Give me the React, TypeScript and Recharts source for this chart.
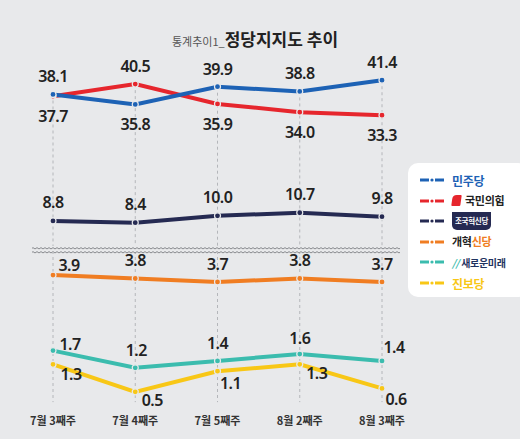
import React from "react";
import { LineChart, Line, XAxis, YAxis, ReferenceLine, LabelList } from "recharts";

const weeks = ["7월 3째주", "7월 4째주", "7월 5째주", "8월 2째주", "8월 3째주"];
const minjoo = [38.1, 35.8, 39.9, 38.8, 41.4];
const ppp = [37.7, 40.5, 35.9, 34.0, 33.3];
const rebuilding = [8.8, 8.4, 10.0, 10.7, 9.8];
const reform = [3.9, 3.8, 3.7, 3.8, 3.7];
const newFuture = [1.7, 1.2, 1.4, 1.6, 1.4];
const progressive = [1.3, 0.5, 1.1, 1.3, 0.6];

const parties = ["민주당", "국민의힘", "조국혁신당", "개혁신당", "새로운미래", "진보당"];
const colors = ["#1d62b5", "#e6262d", "#252a52", "#f07d22", "#3bbcae", "#f8c716"];

const BG = "#e8e9eb";
const GRID = "#b4b6ba";
const NUM_FONT = "'Noto Sans', 'Noto Sans CJK KR', sans-serif";
const KR_FONT = "'Noto Sans CJK KR', 'Noto Sans', sans-serif";

const topData = weeks.map((week, i) => ({
  week,
  minjoo: minjoo[i],
  ppp: ppp[i],
  rebuilding: rebuilding[i],
}));

const bottomData = weeks.map((week, i) => ({
  week,
  reform: reform[i],
  newFuture: newFuture[i],
  progressive: progressive[i],
}));

// label offsets (px) relative to each point
const above = (i: number, a: number[], b: number[]) => (a[i] >= b[i] ? -18 : 20);
const teal = [[17, -7], [1, -18], [0, -18], [0, -16], [12, -14]];
const yellow = [[18, 10], [17, 8], [13, 12], [17, 9], [14, 11]];

function makeLabel(offset: (i: number) => number[]) {
  return (props: any) => {
    const { x, y, value, index } = props;
    const [dx, dy] = offset(index);
    return (
      <text
        x={x + dx}
        y={y + dy}
        textAnchor="middle"
        dominantBaseline="central"
        fontFamily={NUM_FONT}
        fontSize={16}
        fontWeight={600}
        fill="#222"
        letterSpacing={-0.6}
      >
        {Number(value).toFixed(1)}
      </text>
    );
  };
}

const dot = (c: string) => ({ r: 3, fill: c, stroke: BG, strokeWidth: 1.2 });

function wave(y: number) {
  return `M32 ${y} q1 -1.3 2 0` + " t2 0".repeat(183);
}

function LegendName({ name, color }: { name: string; color: string }) {
  const base = { fontFamily: KR_FONT, fontWeight: 700, fontSize: 11, lineHeight: "13px", letterSpacing: -0.3 };
  if (name === "국민의힘")
    return (
      <span style={{ ...base, color: "#222", display: "flex", alignItems: "center" }}>
        <span style={{ width: 9, height: 11, background: color, borderRadius: "4px 1px 1px 1px", marginRight: 4, transform: "skewX(-8deg)" }} />
        {name}
      </span>
    );
  if (name === "조국혁신당")
    return (
      <span style={{ ...base, fontSize: 7.5, lineHeight: "9px", color: "#fff", background: color, padding: "4px 3px 5px", borderRadius: "0 0 5px 5px" }}>
        {name}
      </span>
    );
  if (name === "개혁신당")
    return (
      <span style={{ ...base, color: "#222" }}>
        개혁<span style={{ color }}>신당</span>
      </span>
    );
  if (name === "새로운미래")
    return (
      <span style={{ ...base, fontSize: 10, color: "#1f3360" }}>
        <span style={{ color, marginRight: 2, fontStyle: "italic" }}>//</span>
        {name}
      </span>
    );
  return <span style={{ ...base, fontSize: 12, color }}>{name}</span>;
}

export default function App() {
  return (
    <div style={{ position: "absolute", left: 0, top: 0, width: 520, height: 439, background: BG, overflow: "hidden" }}>
      <div
        style={{
          position: "absolute",
          top: 26,
          left: 0,
          width: 510,
          textAlign: "center",
          fontFamily: KR_FONT,
          color: "#222",
        }}
      >
        <span style={{ fontSize: 11, color: "#555" }}>통계추이1_</span>
        <span style={{ fontSize: 17, fontWeight: 700 }}>정당지지도 추이</span>
      </div>

      <div style={{ position: "absolute", left: 0, top: 0 }}>
        <LineChart width={520} height={250} data={topData} margin={{ top: 69, right: 138, bottom: 4, left: 53 }}>
          <XAxis dataKey="week" hide />
          <YAxis hide domain={[3, 44]} />
          {weeks.map((w, i) => (
            <ReferenceLine
              key={w}
              segment={[{ x: w, y: Math.max(minjoo[i], ppp[i]) }, { x: w, y: 3 }]}
              stroke={GRID}
              strokeDasharray="3 3"
            />
          ))}
          <Line dataKey="rebuilding" stroke={colors[2]} strokeWidth={4} dot={dot(colors[2])} isAnimationActive={false}>
            <LabelList dataKey="rebuilding" content={makeLabel(() => [0, -19])} />
          </Line>
          <Line dataKey="ppp" stroke={colors[1]} strokeWidth={4} dot={dot(colors[1])} isAnimationActive={false}>
            <LabelList dataKey="ppp" content={makeLabel((i) => [0, above(i, ppp, minjoo)])} />
          </Line>
          <Line dataKey="minjoo" stroke={colors[0]} strokeWidth={4} dot={dot(colors[0])} isAnimationActive={false}>
            <LabelList dataKey="minjoo" content={makeLabel((i) => [0, above(i, minjoo, ppp)])} />
          </Line>
        </LineChart>
      </div>

      <div style={{ position: "absolute", left: 0, top: 0 }}>
        <LineChart width={520} height={439} data={bottomData} margin={{ top: 251, right: 138, bottom: 0, left: 53 }}>
          <XAxis
            dataKey="week"
            height={30}
            axisLine={false}
            tickLine={false}
            interval={0}
            tick={{ fontFamily: KR_FONT, fontSize: 11, fontWeight: 700, fill: "#333" }}
          />
          <YAxis hide domain={[0, 4.6]} />
          {weeks.map((w) => (
            <ReferenceLine key={w} segment={[{ x: w, y: 4.6 }, { x: w, y: 0.2 }]} stroke={GRID} strokeDasharray="3 3" />
          ))}
          <Line dataKey="reform" stroke={colors[3]} strokeWidth={4} dot={dot(colors[3])} isAnimationActive={false}>
            <LabelList dataKey="reform" content={makeLabel((i) => (i === 0 ? [16, -10] : [0, -18]))} />
          </Line>
          <Line dataKey="newFuture" stroke={colors[4]} strokeWidth={4} dot={dot(colors[4])} isAnimationActive={false}>
            <LabelList dataKey="newFuture" content={makeLabel((i) => teal[i])} />
          </Line>
          <Line dataKey="progressive" stroke={colors[5]} strokeWidth={4} dot={dot(colors[5])} isAnimationActive={false}>
            <LabelList dataKey="progressive" content={makeLabel((i) => yellow[i])} />
          </Line>
        </LineChart>
      </div>

      <svg style={{ position: "absolute", left: 0, top: 0 }} width={520} height={439}>
        <rect x={32} y={247.5} width={367} height={5.5} fill={BG} />
        <path d={wave(248.3)} fill="none" stroke="#7d7f83" strokeWidth={0.9} />
        <path d={wave(252.3)} fill="none" stroke="#7d7f83" strokeWidth={0.9} />
      </svg>

      <div
        style={{
          position: "absolute",
          left: 408,
          top: 163,
          width: 120,
          height: 134,
          background: "#fff",
          borderRadius: 10,
        }}
      >
        {parties.map((p, i) => (
          <div
            key={p}
            style={{ position: "absolute", left: 12, top: 17 + i * 20.6, height: 0, display: "flex", alignItems: "center" }}
          >
            <svg width={24} height={6} style={{ marginRight: 8, flex: "none" }}>
              <line x1={0} y1={3} x2={9} y2={3} stroke={colors[i]} strokeWidth={3} />
              <circle cx={12} cy={3} r={1.6} fill={colors[i]} />
              <line x1={15} y1={3} x2={24} y2={3} stroke={colors[i]} strokeWidth={3} />
            </svg>
            <LegendName name={p} color={colors[i]} />
          </div>
        ))}
      </div>
    </div>
  );
}
